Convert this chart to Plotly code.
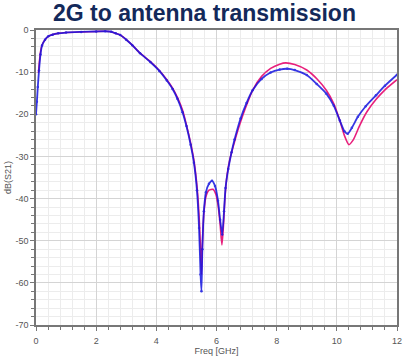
import plotly.graph_objects as go

# Simulated (magenta) trace
sim_freq = [0.08, 0.12, 0.16, 0.2, 0.3, 0.41, 0.55, 0.74, 1.0, 1.5, 2.0, 2.3, 2.5, 2.65, 2.8,
            3.0, 3.2, 3.46, 3.8, 4.1, 4.35, 4.54, 4.7, 4.87, 5.0, 5.14, 5.25, 5.35, 5.42, 5.47,
            5.5, 5.53, 5.58, 5.65, 5.75, 5.88, 5.98, 6.05, 6.12, 6.18, 6.23, 6.28, 6.35, 6.45,
            6.6, 6.8, 7.0, 7.2, 7.5, 7.8, 8.1, 8.3, 8.6, 9.0, 9.35, 9.65, 9.9, 10.1, 10.25,
            10.4, 10.55, 10.75, 11.0, 11.3, 11.6, 12.0]
sim_db = [-10.2, -7.0, -4.8, -3.6, -2.3, -1.5, -1.1, -0.8, -0.6, -0.45, -0.35, -0.3, -0.4, -0.8, -1.2,
          -2.3, -3.6, -5.5, -7.5, -9.6, -11.8, -13.8, -16.0, -19.0, -22.5, -26.8, -31.0, -37.0, -44.0, -52.0,
          -58.0, -51.0, -43.5, -39.5, -38.0, -37.8, -39.0, -41.5, -46.0, -51.0, -46.5, -40.0, -34.5, -30.5,
          -26.5, -21.8, -17.8, -14.3, -11.0, -9.1, -8.1, -7.8, -8.2, -9.5, -11.7, -14.3, -17.5, -21.5, -25.0,
          -27.2, -26.0, -22.8, -19.4, -16.5, -14.2, -11.8]

# Measured (blue) trace
meas_freq = [0.0, 0.03, 0.06, 0.1, 0.15, 0.2, 0.3, 0.41, 0.55, 0.74, 1.0, 1.5, 2.0, 2.3, 2.5, 2.65,
             2.8, 3.0, 3.2, 3.46, 3.8, 4.1, 4.35, 4.54, 4.7, 4.87, 5.0, 5.14, 5.25, 5.35, 5.42,
             5.47, 5.5, 5.53, 5.58, 5.65, 5.75, 5.85, 5.95, 6.05, 6.12, 6.19, 6.25, 6.3, 6.39,
             6.5, 6.6, 6.8, 7.0, 7.2, 7.5, 7.8, 8.1, 8.35, 8.6, 9.0, 9.33, 9.65, 9.9, 10.1,
             10.25, 10.36, 10.5, 10.7, 10.96, 11.3, 11.6, 12.0]
meas_db = [-20.0, -17.0, -13.5, -9.6, -5.8, -3.7, -2.3, -1.5, -1.1, -0.8, -0.6, -0.45, -0.35, -0.3, -0.4, -0.8,
           -1.2, -2.3, -3.6, -5.5, -7.6, -9.7, -12.0, -14.0, -16.3, -19.5, -22.8, -27.2, -31.5, -38.0, -47.0,
           -58.0, -62.0, -52.0, -43.0, -38.5, -36.5, -35.8, -37.0, -40.5, -45.0, -48.5, -43.0, -37.5, -33.0,
           -29.0, -26.0, -21.0, -17.3, -14.3, -11.6, -10.1, -9.4, -9.2, -9.5, -10.7, -12.8, -15.1, -18.0, -21.5,
           -24.0, -24.6, -23.2, -20.6, -18.1, -15.5, -13.2, -10.6]

x_ticks = [0, 2, 4, 6, 8, 10, 12]
y_ticks = [0, -10, -20, -30, -40, -50, -60, -70]

fig = go.Figure()
fig.add_trace(go.Scatter(x=sim_freq, y=sim_db, mode="lines", line=dict(color="#e8207c", width=1.6, shape="spline", smoothing=0.6),
                         showlegend=False))
fig.add_trace(go.Scatter(x=meas_freq, y=meas_db, mode="lines+markers",
                         line=dict(color="#1414e0", width=1.8, shape="spline", smoothing=0.6),
                         marker=dict(size=2.5, color="#1414e0"),
                         opacity=0.85, showlegend=False))

tickfont = dict(family="Liberation Sans, Arial, sans-serif", size=9, color="#555555")

fig.update_layout(
    width=409, height=359,
    margin=dict(l=34, r=7, t=30, b=20),
    paper_bgcolor="white", plot_bgcolor="white",
    title=dict(text="<b>2G to antenna transmission</b>", x=0.5, xanchor="center", y=0.985, yanchor="top",
               font=dict(family="Liberation Sans, Arial, sans-serif", size=23, color="#13295a")),
    xaxis=dict(range=[0, 12], tickvals=x_ticks, ticktext=[str(v) for v in x_ticks],
               showgrid=True, gridcolor="#d4d4d4", gridwidth=1,
               minor=dict(dtick=0.4, tick0=0, showgrid=True, gridcolor="#ececec", ticks="outside", ticklen=3, tickcolor="#777777"),
               ticks="outside", ticklen=4, tickcolor="#777777", ticklabelstandoff=2,
               showline=True, linecolor="#777777", linewidth=1.5, mirror=True,
               zeroline=False, tickfont=tickfont,
               title=dict(text="Freq [GHz]", font=dict(family="Liberation Sans, Arial, sans-serif", size=9, color="#555555"), standoff=0)),
    yaxis=dict(range=[-70, 0], tickvals=y_ticks, ticktext=[str(v) for v in y_ticks],
               showgrid=True, gridcolor="#d4d4d4", gridwidth=1,
               minor=dict(dtick=2, tick0=0, showgrid=True, gridcolor="#ececec", ticks="outside", ticklen=3, tickcolor="#777777"),
               ticks="outside", ticklen=4, tickcolor="#777777",
               showline=True, linecolor="#777777", linewidth=1.5, mirror=True,
               zeroline=False, tickfont=tickfont,
               title=dict(text="dB(S21)", font=dict(family="Liberation Sans, Arial, sans-serif", size=9, color="#555555"), standoff=2)),
)

fig.write_html("out.html")
